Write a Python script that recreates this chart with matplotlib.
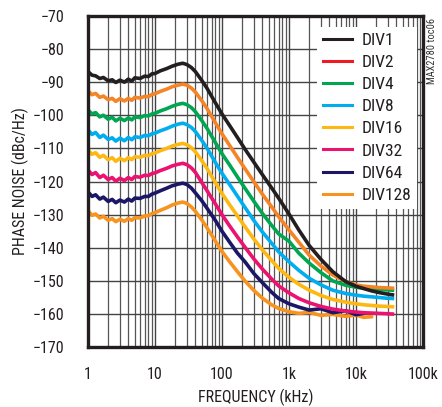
import numpy as np
import matplotlib
matplotlib.use("Agg")
import matplotlib.pyplot as plt
from matplotlib.lines import Line2D
from matplotlib.ticker import FixedLocator, NullFormatter

plt.rcParams['font.family'] = ['Roboto Condensed', 'DejaVu Sans']

nan = np.nan

# offset frequency, kHz
freq = [1, 1.15, 1.3, 1.5, 1.7, 2, 2.3, 2.6, 3, 3.5, 4, 4.5, 5, 6, 7, 8, 9, 10,
        12, 15, 18, 22, 26, 30, 35, 40, 50, 60, 80, 100, 130, 170, 220, 300,
        400, 550, 700, 1000, 1400, 2000, 3000, 4500, 7000, 10000, 13000, 17000,
        22000, 28000, 35000]

div1 = [-86.8, -87.9, -88.1, -88.9, -88.6, -89.6, -89.3, -90.1, -89.4, -90.0,
        -89.1, -89.7, -88.7, -88.9, -88.2, -88.3, -87.5, -87.4, -86.6, -85.9,
        -85.2, -84.6, -84.3, -84.7, -85.6, -86.8, -89.5, -91.9, -96.3, -99.6,
        -103.1, -106.7, -110.2, -114.2, -117.9, -121.9, -125.0, -129.8, -134.6,
        -139.3, -143.5, -147.2, -150.2, -151.6, -152.3, -153.0, -153.5, -153.9,
        -154.2]
div2 = [-92.6, -93.8, -93.4, -94.6, -94.2, -95.3, -94.9, -95.8, -95.0, -95.7,
        -94.9, -95.5, -94.6, -94.8, -94.3, -94.4, -93.7, -93.5, -92.8, -92.1,
        -91.4, -90.9, -90.6, -90.9, -91.8, -93.0, -95.6, -98.0, -102.3, -105.6,
        -109.1, -112.7, -116.1, -120.1, -123.8, -127.6, -130.6, -134.6, -138.3,
        -142.2, -145.5, -148.2, -150.2, -151.2, -151.6, -151.8, -152.0, -152.1,
        -152.2]
div4 = [-98.4, -99.6, -99.2, -100.5, -100.0, -101.2, -100.6, -101.7, -100.9,
        -101.6, -100.8, -101.4, -100.5, -100.7, -100.1, -100.2, -99.6, -99.4,
        -98.7, -98.0, -97.3, -96.7, -96.4, -96.8, -97.7, -98.9, -101.6, -104.0,
        -108.3, -111.6, -115.0, -118.6, -122.0, -126.0, -129.6, -133.2, -135.8,
        -138.0, -141.6, -144.6, -147.5, -150.0, -151.3, -151.9, -152.2, -152.4,
        -152.6, -152.7, -152.8]
div8 = [-104.4, -105.8, -105.2, -106.7, -106.0, -107.3, -106.8, -107.8, -106.9,
        -107.7, -106.7, -107.4, -106.5, -106.7, -106.1, -106.2, -105.6, -105.4,
        -104.7, -104.0, -103.3, -102.7, -102.4, -102.8, -103.7, -104.9, -107.6,
        -110.0, -114.3, -117.5, -120.9, -124.4, -127.8, -131.8, -135.2, -138.6,
        -141.2, -144.2, -146.8, -149.2, -151.2, -152.8, -153.8, -154.3, -154.6,
        -154.8, -155.0, -155.2, -155.3]
div16 = [-110.5, -111.8, -111.3, -112.7, -112.1, -113.4, -112.8, -113.9, -113.0,
         -113.7, -112.8, -113.4, -112.5, -112.7, -112.1, -112.2, -111.6, -111.4,
         -110.7, -110.0, -109.3, -108.8, -108.5, -108.9, -109.8, -111.0, -113.7,
         -116.1, -120.4, -123.6, -127.0, -130.4, -133.6, -137.4, -140.6, -143.8,
         -146.2, -148.9, -151.0, -152.8, -154.4, -155.6, -156.4, -156.9, -157.2,
         -157.4, -157.6, -157.7, -157.8]
div32 = [-116.5, -117.9, -117.3, -118.8, -118.1, -119.4, -118.8, -119.9, -119.0,
         -119.7, -118.8, -119.4, -118.5, -118.7, -118.1, -118.2, -117.6, -117.4,
         -116.7, -116.0, -115.3, -114.8, -114.5, -114.9, -115.9, -117.2, -120.3,
         -122.8, -126.8, -130.0, -133.4, -136.7, -139.8, -143.4, -146.4, -149.4,
         -151.5, -153.6, -155.3, -156.6, -157.7, -158.5, -159.1, -159.4, -159.6,
         -159.7, -159.8, -159.9, -160.0]
div64 = [-123.1, -124.5, -124.0, -125.3, -124.7, -126.0, -125.4, -126.4, -125.6,
         -126.2, -125.3, -125.9, -125.0, -125.1, -124.5, -124.5, -123.8, -123.5,
         -122.8, -122.0, -121.3, -120.8, -120.5, -120.9, -122.0, -123.4, -125.8,
         -128.1, -131.8, -135.0, -138.3, -141.6, -144.2, -147.8, -150.5, -153.4,
         -155.3, -156.9, -157.9, -158.8, -158.4, -159.6, -159.0, -160.2, -159.8,
         nan, nan, nan, nan]
div128 = [-128.8, -130.2, -129.8, -131.0, -130.5, -131.7, -131.2, -132.1, -131.4,
          -132.0, -131.2, -131.7, -130.9, -131.0, -130.4, -130.3, -129.7, -129.4,
          -128.7, -127.9, -127.1, -126.5, -126.2, -126.6, -127.7, -129.0, -131.6,
          -134.0, -138.0, -141.1, -144.2, -147.2, -150.0, -152.9, -155.2, -157.2,
          -158.3, -159.3, -159.8, -159.5, -160.4, -160.1, -160.7, -160.3, -161.0,
          -160.8, nan, nan, nan]

labels = ['DIV1', 'DIV2', 'DIV4', 'DIV8', 'DIV16', 'DIV32', 'DIV64', 'DIV128']
series = [div1, div2, div4, div8, div16, div32, div64, div128]
line_colors = ['#231F20', '#F58426', '#00A651', '#00AEEF', '#FDB813',
               '#EC1270', '#1B1766', '#F7931E']
legend_colors = ['#231F20', '#ED1C24', '#00A651', '#00AEEF', '#FDB813',
                 '#EC1270', '#1B1766', '#F7931E']

fig = plt.figure(figsize=(4.42, 4.07), dpi=100)
ax = fig.add_axes([0.199, 0.147, 0.758, 0.814])

for vals, c in reversed(list(zip(series, line_colors))):
    ax.plot(freq, vals, color=c, lw=2.6, solid_joinstyle='round')

ax.set_xscale('log')
ax.set_xlim(1, 100000)
ax.set_ylim(-170, -70)
ax.set_yticks(range(-170, -69, 10))
ax.set_xticks([1, 10, 100, 1000, 10000, 100000])
ax.set_xticklabels(['1', '10', '100', '1k', '10k', '100k'])
minors = [m * 10 ** d for d in range(5) for m in range(2, 10)]
ax.xaxis.set_minor_locator(FixedLocator(minors))
ax.xaxis.set_minor_formatter(NullFormatter())
ax.grid(True, which='major', color='#444444', lw=1.0)
ax.grid(True, which='minor', axis='x', color='#555555', lw=0.9)
ax.set_axisbelow(True)
ax.tick_params(which='both', length=0, labelsize=11.5, labelcolor='#231F20')
ax.tick_params(axis='y', pad=17)
ax.tick_params(axis='x', pad=14)
for s in ax.spines.values():
    s.set_linewidth(2.4)
    s.set_color('#231F20')

ax.set_xlabel('FREQUENCY (kHz)', fontsize=11.5, labelpad=5, color='#231F20')
ax.set_ylabel('PHASE NOISE (dBc/Hz)', fontsize=11.5, labelpad=3, color='#231F20')

handles = [Line2D([], [], color=c, lw=2.2) for c in legend_colors]
leg = ax.legend(handles, labels, loc='upper right',
                bbox_to_anchor=(0.982, 0.967), borderaxespad=0,
                fontsize=12.5, frameon=True, fancybox=False, framealpha=1,
                handlelength=1.7, handletextpad=0.5, labelspacing=0.4,
                borderpad=0.35)
for t in leg.get_texts():
    t.set_color('#231F20')
leg.get_frame().set_edgecolor('white')
leg.get_frame().set_linewidth(0)

fig.text(0.978, 0.955, 'MAX2780 toc06', rotation=90, fontsize=7.5,
         ha='center', va='top', color='#333333')

fig.savefig('out.png', dpi=100)
